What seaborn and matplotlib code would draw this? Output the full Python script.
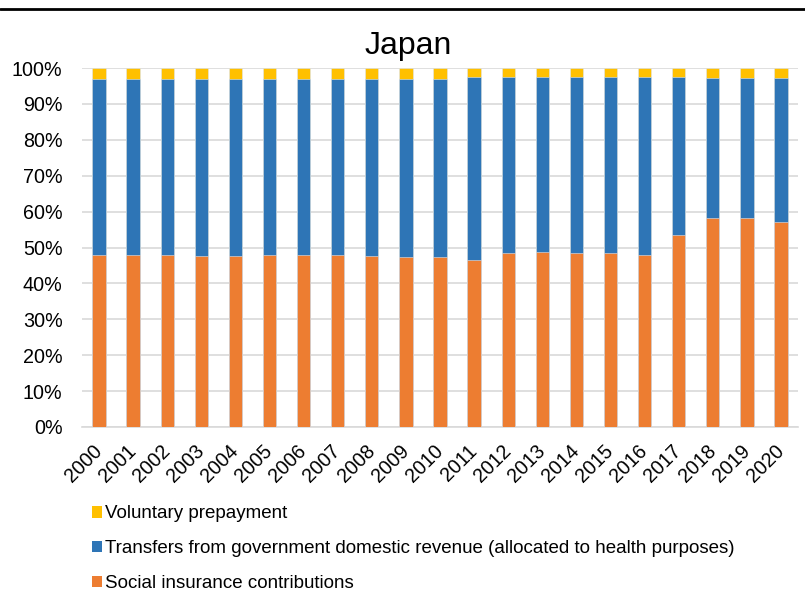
import pandas as pd
import numpy as np
import matplotlib
matplotlib.use("Agg")
import matplotlib.pyplot as plt
import seaborn as sns
from matplotlib.patches import Patch
from matplotlib.lines import Line2D

years = [str(y) for y in range(2000, 2021)]
social_insurance = [47.9, 47.9, 47.8, 47.7, 47.7, 47.9, 47.8, 47.9, 47.6, 47.35, 47.3,
                    46.4, 48.5, 48.7, 48.4, 48.5, 47.9, 53.5, 58.2, 58.3, 57.0]
government = [49.0, 49.1, 49.2, 49.3, 49.3, 49.1, 49.0, 49.1, 49.4, 49.65, 49.7,
              51.0, 48.9, 48.8, 49.1, 49.0, 49.5, 43.9, 39.1, 39.0, 40.3]
voluntary = [3.1, 3.0, 3.0, 3.0, 3.0, 3.0, 3.2, 3.0, 3.0, 3.0, 3.0,
             2.6, 2.6, 2.5, 2.5, 2.5, 2.6, 2.6, 2.7, 2.7, 2.7]

labels = ["Voluntary prepayment",
          "Transfers from government domestic revenue (allocated to health purposes)",
          "Social insurance contributions"]
colors = ["#FFC000", "#2E75B6", "#ED7D31"]

sns.set_style("white")
plt.rcParams['font.family'] = ['Liberation Sans', 'DejaVu Sans']
plt.rcParams['text.color'] = 'black'
plt.rcParams['xtick.color'] = 'black'
plt.rcParams['ytick.color'] = 'black'

df = pd.DataFrame({"year": years, "social": social_insurance,
                   "gov": government, "vol": voluntary})
# cumulative heights so the layers can be overdrawn
df["top3"] = df["social"] + df["gov"] + df["vol"]
df["top2"] = df["social"] + df["gov"]
df["top1"] = df["social"]

fig = plt.figure(figsize=(8.05, 6.02), dpi=100)
ax = fig.add_axes([82 / 805, 1 - 427 / 602, (798 - 82) / 805, (427 - 68) / 602])

for col, c in zip(["top3", "top2", "top1"], colors):
    sns.barplot(data=df, x="year", y=col, color=c, width=0.39, ax=ax,
                saturation=1, edgecolor="#DCE6F2", linewidth=0.4, zorder=3)

ax.set_ylim(0, 100)
ax.set_xlim(-0.5, 20.5)
ax.set_yticks(np.arange(0, 101, 10))
ax.set_yticklabels([f"{v}%" for v in range(0, 101, 10)])
ax.set_xlabel("")
ax.set_ylabel("")
ax.grid(axis="y", color="#D9D9D9", linewidth=1.2, zorder=0)
ax.grid(axis="x", visible=False)
for s in ["top", "left", "right"]:
    ax.spines[s].set_visible(False)
ax.spines["bottom"].set_color("#D9D9D9")
ax.spines["bottom"].set_linewidth(1.2)
ax.tick_params(axis="y", length=0, pad=14, labelsize=14.2)
ax.tick_params(axis="x", length=0, pad=15, labelsize=14.2)
for lbl in ax.get_xticklabels():
    lbl.set_rotation(45)
    lbl.set_ha("right")
    lbl.set_va("center")
    lbl.set_rotation_mode("anchor")

fig.text(408 / 805, 1 - 46 / 602, "Japan", ha="center", va="center", fontsize=23)

fig.add_artist(Line2D([0, 1], [1 - 8.5 / 602, 1 - 8.5 / 602], color="black",
                      linewidth=2, transform=fig.transFigure))

handles = [Patch(facecolor=c, edgecolor="none") for c in colors]
fig.legend(handles, labels, loc="upper left", bbox_to_anchor=(84 / 805, 1 - 498 / 602),
           frameon=False, fontsize=13.5, handlelength=0.55, handleheight=0.55,
           handletextpad=0.15, labelspacing=0.95, borderaxespad=0)

fig.savefig("out.png", dpi=100)
